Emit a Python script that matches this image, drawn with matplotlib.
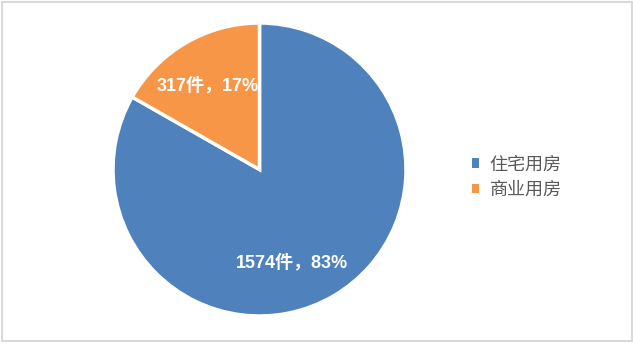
import matplotlib
matplotlib.use("Agg")
import matplotlib.pyplot as plt
import numpy as np
from matplotlib.patches import Rectangle

categories = ["住宅用房", "商业用房"]
counts = [1574, 317]
percents = [83, 17]
colors = ["#4F81BD", "#F79646"]

fams = ['Liberation Sans', 'Noto Sans CJK SC', 'DejaVu Sans']

W, H = 633, 354
fig = plt.figure(figsize=(W / 100, H / 100), dpi=100)
ax = fig.add_axes([0, 0, 1, 1])

# border
ax.add_patch(Rectangle((1.5, H - 341), 630, 339.5, fill=False, edgecolor="#D9D9D9", lw=1.5))

cx, cy, r = 259.5, H - 169.5, 146.5
wedges, _ = ax.pie(counts, colors=colors, startangle=90, counterclock=False,
                   center=(cx, cy), radius=r, frame=True,
                   wedgeprops=dict(edgecolor='white', linewidth=2.5))
ax.set_xlim(0, W)
ax.set_ylim(0, H)
ax.set_aspect('equal')
ax.axis('off')

# label placement (angle in degrees, distance as fraction of radius)
label_pos = [(-70.4, 0.67), (121.9, 0.672)]
for c, p, (ang, d) in zip(counts, percents, label_pos):
    a = np.deg2rad(ang)
    ax.text(cx + d * r * np.cos(a), cy + d * r * np.sin(a), f"{c}件，{p}%",
            ha='center', va='center', color='white', fontsize=13,
            fontweight='bold', family=fams)

leg = ax.legend(wedges, categories, loc='center left',
                bbox_to_anchor=(456 / W, 1 - 177.5 / H), frameon=False,
                prop={'family': fams, 'size': 13}, handlelength=0.4,
                handleheight=0.4, handletextpad=0.55, labelspacing=0.45)
for t in leg.get_texts():
    t.set_color('#595959')
for h in leg.legend_handles:
    h.set_edgecolor('none')

fig.savefig("out.png", dpi=100, facecolor='white')
